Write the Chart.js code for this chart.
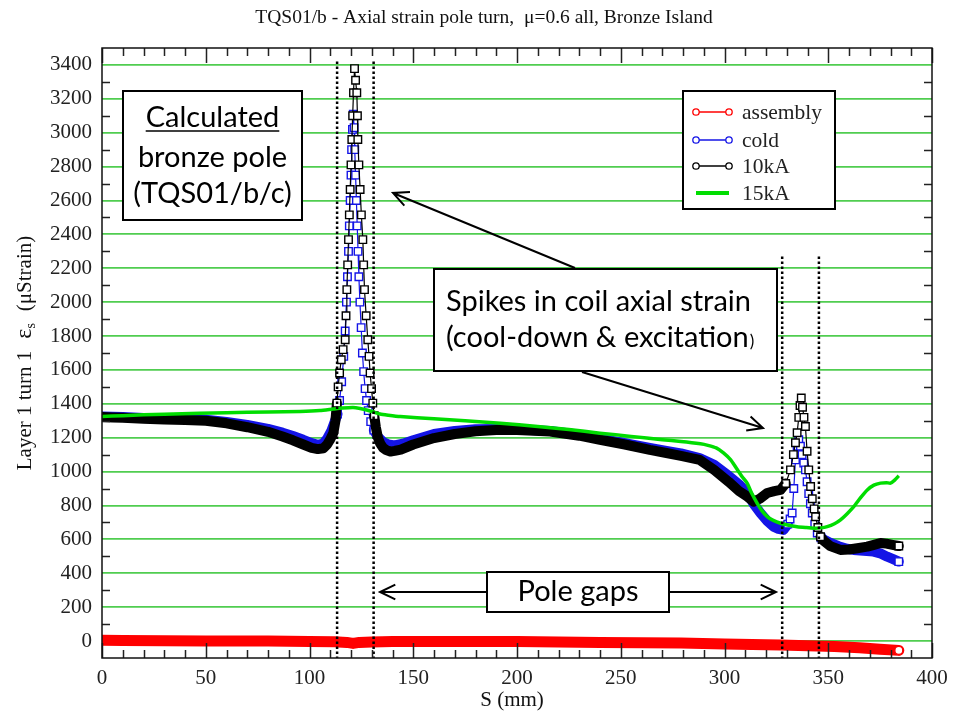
<!DOCTYPE html>
<html>
<head>
<meta charset="utf-8">
<script src="https://cdn.jsdelivr.net/npm/chart.js@4.4.0/dist/chart.umd.min.js"></script>
<style>
  html, body { margin: 0; padding: 0; background: #fff; }
  #wrap { width: 965px; height: 715px; }
</style>
</head>
<body>
<div id="wrap"><canvas id="strainChart" width="965" height="715"></canvas></div>
<script>
// S position (mm) and axial strain (microstrain)

const assemblyS      = [0, 10, 30, 50, 80, 100, 112, 118, 121, 124, 130, 140, 160, 200, 220, 240, 260, 279, 300, 320, 327, 340, 353, 365, 375, 384];
const assemblyStrain = [5, 3, 2, 0, 0, -2, -4, -8, -14, -8, -5, -3, -2, -3, -6, -8, -10, -12, -18, -22, -24, -27, -32, -40, -48, -55];

const coldS = [0, 10, 20, 30, 40, 50, 60, 70, 80, 87, 92, 97, 101, 104, 106.5, 108.5, 110.5, 112,
  113.5, 114.5, 115.5, 116.5, 117.2, 117.8, 118.3, 118.8, 119.2, 119.6, 120, 120.3, 120.7, 121.1,
  121.5, 121.8, 122.2, 122.6, 123, 123.4, 123.8, 124.3, 124.9, 125.5, 126.1, 126.8, 127.5, 128.3,
  129.5, 131, 133, 135.5, 138, 141, 145, 150, 160, 170, 180, 192, 200, 216, 230, 240, 252, 264, 272,
  279, 288, 295, 302, 307, 311, 314, 317.3, 320.5, 323.6, 326, 328.4, 330.5, 331.6, 332.6, 333.4,
  334.2, 335, 335.8, 336.6, 337.4, 338.2, 339, 339.8, 340.6, 341.4, 342.3, 343.5, 344.7, 346.5, 349,
  351.1, 355, 359, 362.2, 367, 371.8, 375, 378.4, 381, 384];
const coldStrain = [1325, 1322, 1316, 1312, 1310, 1306, 1293, 1275, 1252, 1230, 1210, 1188, 1168, 1158, 1165, 1195, 1240, 1290,
  1340, 1420, 1530, 1680, 1830, 2000, 2150, 2300, 2450, 2600, 2750, 2900, 3020, 3110,
  3030, 2900, 2750, 2600, 2450, 2300, 2150, 2000, 1850, 1700, 1590, 1490, 1420, 1360,
  1295, 1245, 1205, 1175, 1160, 1155, 1165, 1185, 1222, 1240, 1250, 1252, 1250, 1240, 1218, 1195, 1168, 1140, 1122,
  1108, 1080, 1040, 975, 925, 874, 810, 756, 710, 675, 662, 656, 690, 720, 756, 900,
  1069, 1150, 1188, 1150, 1100, 1050, 1010, 940, 870, 810, 756, 690, 638, 610, 592,
  579, 560, 545, 538, 533, 528, 518, 498, 485, 469];

const kA10S = [0, 5, 10, 20, 30, 40, 50, 60, 70, 80, 87, 92, 97, 101, 104, 106.7, 108.5, 110, 111.5, 112.5,
  113.2, 113.8, 114.5, 115.3, 116.2, 117.2, 117.6, 118, 118.4, 118.8, 119.2, 119.6, 120, 120.4, 120.8,
  121.2, 121.7, 122.2, 122.8, 123.1, 123.3, 123.8, 124.4, 125, 125.7, 126.1, 126.5, 127.3, 128.1,
  128.7, 129.2, 129.9, 130.5, 131.2, 132, 133, 134, 135.5, 137, 139, 141, 144, 150, 160, 170, 180,
  192, 200, 216, 230, 240, 252, 264, 272, 279, 288, 295, 302, 307, 311, 314, 317, 320.6, 324, 327,
  329.5, 331.8, 333.2, 334.2, 335, 335.8, 336.4, 337, 337.6, 338.3, 339, 339.8, 340.6, 341.5, 342.3,
  343.2, 343.9, 345, 346.3, 348, 351, 355.9, 360, 364, 368.8, 372, 375.2, 378, 381, 384];
const kA10Strain = [1322, 1320, 1318, 1312, 1308, 1305, 1300, 1285, 1262, 1235, 1207, 1185, 1160, 1140, 1133, 1138, 1160, 1190, 1229, 1300,
  1404, 1500, 1582, 1660, 1720, 1778, 1920, 2074, 2220, 2369, 2515, 2665, 2810, 2960, 3100,
  3236, 3378, 3310, 3236, 3100, 2960, 2810, 2665, 2515, 2369, 2220, 2074, 1920, 1778,
  1680, 1582, 1490, 1404, 1330, 1260, 1200, 1168, 1140, 1127, 1118, 1122, 1130, 1160, 1198, 1222, 1238,
  1247, 1246, 1237, 1212, 1188, 1160, 1128, 1110, 1093, 1069, 1010, 940, 885, 853, 823, 840, 874, 885, 892,
  930, 1010, 1100, 1170, 1229, 1320, 1390, 1434, 1380, 1320, 1266, 1120, 1010, 912, 840,
  780, 734, 670, 616, 590, 560, 538, 540, 548, 557, 568, 579, 575, 568, 561];

const kA15S = [0, 10, 20, 30, 47, 60, 80, 95.5, 105, 111.4, 116, 121, 124.4, 128, 130.8, 134, 138, 143.7,
  160, 175, 192, 210, 225, 240, 255, 270, 279, 288.4, 292, 296, 299.5, 303, 306, 308.5, 310.9, 313,
  315.7, 318, 320.6, 323.5, 327, 331, 335, 339, 343, 346.5, 349.5, 353, 355.9, 359, 362.3, 365.5,
  368.8, 372, 375.2, 378, 380, 382, 384];
const kA15Strain = [1325, 1330, 1335, 1338, 1345, 1348, 1352, 1355, 1360, 1369, 1375, 1378, 1372, 1362, 1352, 1340, 1333, 1325,
  1312, 1300, 1286, 1266, 1248, 1227, 1208, 1188, 1178, 1164, 1155, 1140, 1110, 1069, 1015, 970, 932, 875,
  814, 770, 734, 712, 695, 683, 675, 670, 666, 668, 675, 692, 715, 750, 793, 845,
  892, 920, 932, 935, 932, 950, 975];

const seriesNames = ['assembly', 'cold', '10kA', '15kA'];
const seriesColors = ['#ff0000', '#1414e6', '#000000', '#00dd00'];
const xTickValues = [0, 50, 100, 150, 200, 250, 300, 350, 400];
const yTickValues = [0, 200, 400, 600, 800, 1000, 1200, 1400, 1600, 1800, 2000, 2200, 2400, 2600, 2800, 3000, 3200, 3400];
const poleGapEdges = [113.3, 130.9, 327.8, 345.5];

const SERIF = '"Liberation Serif", "DejaVu Serif", serif';
const SANS = 'Lato, "Open Sans", sans-serif';

// the spike regions show individual markers, elsewhere the markers merge into a band
const spikeZones = [[113, 131.3], [329.5, 346.5]];
const inSpike = x => spikeZones.some(([a, b]) => x >= a && x <= b);

function toPoints(xs, ys) {
  return xs.map((x, i) => ({ x: x, y: ys[i] }));
}

function bandDataset(label, xs, ys, color, order) {
  return {
    label: label,
    data: toPoints(xs, ys),
    order: order,
    borderColor: color,
    borderWidth: 10,
    borderCapStyle: 'round',
    borderJoinStyle: 'round',
    pointStyle: 'rect',
    pointBackgroundColor: '#fff',
    pointBorderColor: color,
    pointBorderWidth: 1.4,
    pointRadius: ctx => (inSpike(ctx.raw.x) || ctx.dataIndex === xs.length - 1) ? 5.3 : 0,
    segment: {
      borderWidth: ctx => (inSpike(ctx.p0.parsed.x) && inSpike(ctx.p1.parsed.x)) ? 1.2 : 10
    },
    tension: 0
  };
}

function arrow(ctx, x0, y0, x1, y1) {
  const ang = Math.atan2(y1 - y0, x1 - x0);
  const head = 17, spread = 0.45;
  ctx.beginPath();
  ctx.moveTo(x0, y0);
  ctx.lineTo(x1, y1);
  ctx.moveTo(x1 - head * Math.cos(ang - spread), y1 - head * Math.sin(ang - spread));
  ctx.lineTo(x1, y1);
  ctx.lineTo(x1 - head * Math.cos(ang + spread), y1 - head * Math.sin(ang + spread));
  ctx.stroke();
}

function textBox(ctx, x, y, w, h) {
  ctx.fillStyle = '#fff';
  ctx.fillRect(x, y, w, h);
  ctx.strokeStyle = '#000';
  ctx.lineWidth = 2;
  ctx.strokeRect(x, y, w, h);
}

const decorPlugin = {
  id: 'decor',
  afterDatasetsDraw(chart) {
    const { ctx, chartArea: a, scales: { x, y } } = chart;
    ctx.save();

    // pole gap markers
    ctx.strokeStyle = '#000';
    ctx.lineWidth = 2.5;
    ctx.setLineDash([2.5, 2.5]);
    poleGapEdges.forEach((s, i) => {
      const px = x.getPixelForValue(s);
      const top = y.getPixelForValue(i < 2 ? 3420 : 2270);
      ctx.beginPath();
      ctx.moveTo(px, top);
      ctx.lineTo(px, a.bottom);
      ctx.stroke();
    });
    ctx.setLineDash([]);

    // inward tick marks on all four sides
    ctx.strokeStyle = '#222';
    ctx.lineWidth = 1.5;
    ctx.beginPath();
    for (let v = 0; v <= 400; v += 10) {
      const px = Math.round(x.getPixelForValue(v)) + 0.5;
      const len = v % 50 === 0 ? 15 : 8;
      ctx.moveTo(px, a.bottom); ctx.lineTo(px, a.bottom - len);
      ctx.moveTo(px, a.top); ctx.lineTo(px, a.top + len);
    }
    for (let v = 100; v <= 3300; v += 200) {
      const py = Math.round(y.getPixelForValue(v)) + 0.5;
      ctx.moveTo(a.left, py); ctx.lineTo(a.left + 8, py);
      ctx.moveTo(a.right, py); ctx.lineTo(a.right - 8, py);
    }
    ctx.stroke();

    // frame
    ctx.strokeStyle = '#111';
    ctx.lineWidth = 1.5;
    ctx.strokeRect(a.left, a.top, a.right - a.left, a.bottom - a.top);

    // legend
    textBox(ctx, 683, 91, 152, 118);
    ctx.lineWidth = 1.5;
    ctx.strokeStyle = '#000';
    ctx.strokeRect(683, 91, 152, 118);
    const rows = [112, 140, 166, 193];
    ctx.font = '21.5px ' + SERIF;
    ctx.textBaseline = 'middle';
    ctx.textAlign = 'left';
    seriesNames.forEach((name, i) => {
      const ly = rows[i];
      ctx.strokeStyle = seriesColors[i];
      ctx.lineWidth = i === 3 ? 4 : 1.3;
      ctx.beginPath();
      ctx.moveTo(696, ly); ctx.lineTo(729, ly);
      ctx.stroke();
      if (i < 3) {
        [696, 729].forEach(cx => {
          ctx.beginPath();
          ctx.arc(cx, ly, 3.2, 0, Math.PI * 2);
          ctx.fillStyle = '#fff';
          ctx.fill();
          ctx.lineWidth = 1.3;
          ctx.stroke();
        });
      }
      ctx.fillStyle = '#222';
      ctx.fillText(name, 742, ly + 1);
    });

    // annotation: calculated bronze pole
    textBox(ctx, 123, 91, 179, 129);
    ctx.fillStyle = '#000';
    ctx.textAlign = 'center';
    ctx.font = '29px ' + SANS;
    ctx.fillText('Calculated', 212.5, 118);
    const uw = ctx.measureText('Calculated').width;
    ctx.lineWidth = 1.6;
    ctx.beginPath();
    ctx.moveTo(212.5 - uw / 2, 131); ctx.lineTo(212.5 + uw / 2, 131);
    ctx.stroke();
    ctx.fillText('bronze pole', 212.5, 158);
    ctx.fillText('(TQS01/b/c)', 212.5, 194);

    // annotation: spikes
    textBox(ctx, 434, 269, 343, 102);
    ctx.fillStyle = '#000';
    ctx.textAlign = 'left';
    ctx.font = '29px ' + SANS;
    ctx.fillText('Spikes in coil axial strain', 446, 302);
    ctx.fillText('(cool-down & excitation', 446, 338);
    const w2 = ctx.measureText('(cool-down & excitation').width;
    ctx.font = '17px ' + SANS;
    ctx.fillText(')', 446 + w2 + 1, 342);

    // annotation: pole gaps
    textBox(ctx, 487, 572, 182, 40);
    ctx.fillStyle = '#000';
    ctx.textAlign = 'center';
    ctx.font = '29px ' + SANS;
    ctx.fillText('Pole gaps', 578, 592);

    // arrows
    ctx.strokeStyle = '#000';
    ctx.lineWidth = 2;
    arrow(ctx, 575, 268, 393, 193);
    arrow(ctx, 582, 372, 763, 428);
    arrow(ctx, 487, 592, 380, 592);
    arrow(ctx, 669, 592, 776, 592);

    // titles
    ctx.fillStyle = '#111';
    ctx.textAlign = 'center';
    ctx.font = '19.5px ' + SERIF;
    ctx.fillText('TQS01/b - Axial strain pole turn,  \u03bc=0.6 all, Bronze Island', 484, 18);
    ctx.font = '21px ' + SERIF;
    ctx.fillText('S (mm)', (a.left + a.right) / 2 - 5, 700);

    // y title, rotated, with subscript
    const parts = [
      { t: 'Layer 1 turn 1', f: '21px ' + SERIF, dy: 0, gap: 12 },
      { t: '\u03b5', f: '24px ' + SERIF, dy: 0, gap: 0 },
      { t: 's', f: '14px ' + SERIF, dy: 6, gap: 12 },
      { t: '(\u03bcStrain)', f: '21px ' + SERIF, dy: 0, gap: 0 }
    ];
    let total = 0;
    parts.forEach(p => { ctx.font = p.f; p.w = ctx.measureText(p.t).width; total += p.w + p.gap; });
    ctx.translate(25, (a.top + a.bottom) / 2);
    ctx.rotate(-Math.PI / 2);
    ctx.textAlign = 'left';
    let cx = -total / 2;
    parts.forEach(p => {
      ctx.font = p.f;
      ctx.fillText(p.t, cx, p.dy);
      cx += p.w + p.gap;
    });
    ctx.restore();
  }
};

const assemblyLen = assemblyS.length;

new Chart(document.getElementById('strainChart'), {
  type: 'line',
  data: {
    datasets: [
      {
        label: seriesNames[3],
        data: toPoints(kA15S, kA15Strain),
        order: 0,
        borderColor: seriesColors[3],
        borderWidth: 3.5,
        pointRadius: 0,
        tension: 0.2
      },
      bandDataset(seriesNames[2], kA10S, kA10Strain, seriesColors[2], 1),
      bandDataset(seriesNames[1], coldS, coldStrain, seriesColors[1], 2),
      {
        label: seriesNames[0],
        data: toPoints(assemblyS, assemblyStrain),
        order: 3,
        borderColor: seriesColors[0],
        borderWidth: 11,
        borderCapStyle: 'round',
        borderJoinStyle: 'round',
        pointStyle: 'circle',
        pointBackgroundColor: '#fff',
        pointBorderColor: seriesColors[0],
        pointBorderWidth: 1.4,
        pointRadius: ctx => ctx.dataIndex === assemblyLen - 1 ? 4 : 0,
        tension: 0
      }
    ]
  },
  options: {
    responsive: false,
    animation: false,
    devicePixelRatio: 1,
    events: [],
    layout: { padding: { top: 48, right: 33, bottom: 0, left: 0 } },
    plugins: {
      legend: { display: false },
      tooltip: { enabled: false },
      title: { display: false }
    },
    scales: {
      x: {
        type: 'linear',
        min: 0,
        max: 400,
        afterBuildTicks: scale => { scale.ticks = xTickValues.map(v => ({ value: v })); },
        afterFit: scale => { scale.height = 57; },
        grid: { display: false, drawTicks: false },
        border: { display: false },
        ticks: {
          autoSkip: false,
          maxRotation: 0,
          padding: 8,
          color: '#222',
          font: { family: SERIF, size: 21 },
          callback: v => String(v)
        }
      },
      y: {
        type: 'linear',
        min: -100,
        max: 3500,
        afterBuildTicks: scale => { scale.ticks = yTickValues.map(v => ({ value: v })); },
        afterFit: scale => { scale.width = 102; },
        grid: { color: 'rgb(80, 205, 80)', lineWidth: 1.8, drawTicks: false },
        border: { display: false },
        ticks: {
          autoSkip: false,
          padding: 10,
          color: '#222',
          font: { family: SERIF, size: 21 },
          callback: v => String(v)
        }
      }
    }
  },
  plugins: [decorPlugin]
});
</script>
</body>
</html>
